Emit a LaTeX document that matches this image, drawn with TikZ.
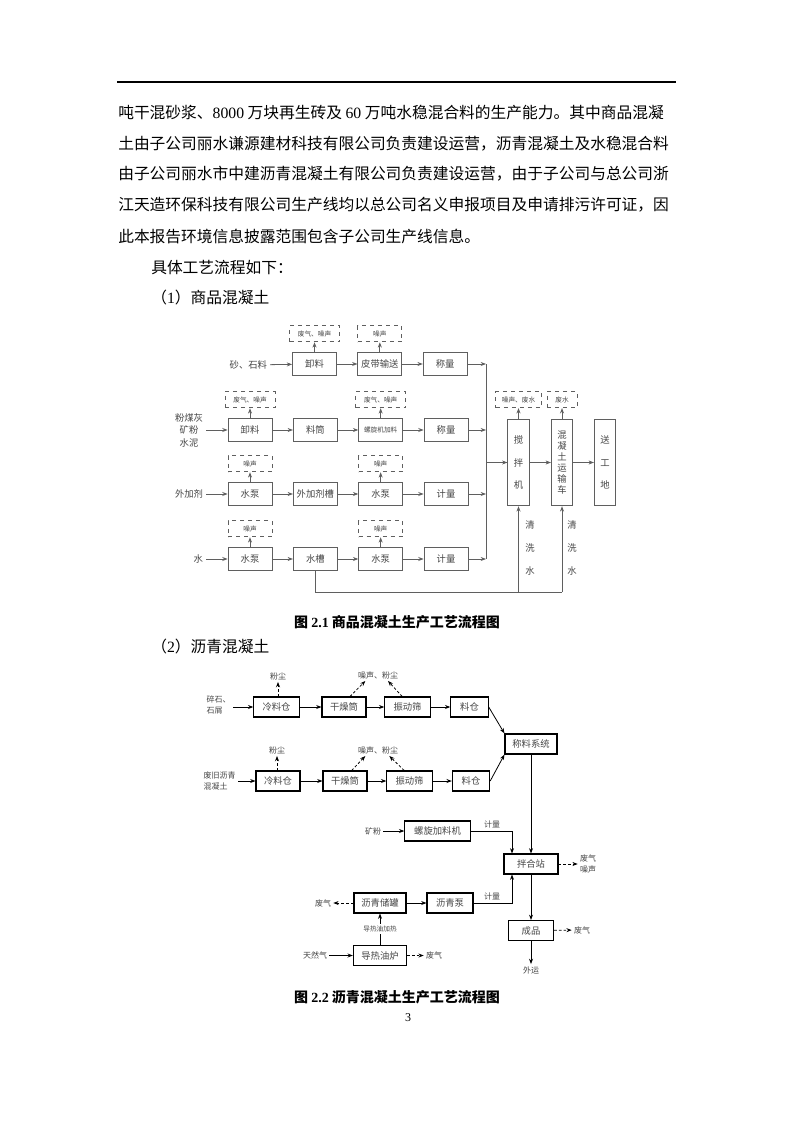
\documentclass[tikz,border=0pt]{standalone}
\usepackage{fontspec}
\setmainfont{Noto Sans CJK SC}
\newfontfamily\latin{Liberation Serif}
\usetikzlibrary{positioning,arrows.meta}
\definecolor{BoxGray}{RGB}{95,95,95}
\definecolor{TextGray}{RGB}{70,70,70}
\XeTeXlinebreaklocale "zh"
\XeTeXlinebreakskip=0pt plus 3pt
\newcommand{\lat}[1]{{\latin #1}}

\begin{document}
\begin{tikzpicture}[x=0.75pt, y=-0.75pt,
    body/.style={anchor=west, inner sep=0pt, font=\fontsize{11.8}{14}\selectfont},
    figcap/.style={inner sep=0pt, font=\fontsize{10.5}{12}\selectfont\bfseries},
    box/.style={rectangle, draw=BoxGray, semithick, minimum width=33pt,
                minimum height=17pt, inner sep=1pt, text=TextGray,
                font=\fontsize{7}{8}\selectfont},
    tall/.style={box, minimum width=16pt, minimum height=65pt, align=center},
    emis/.style={rectangle, draw=BoxGray, dashed, semithick, minimum width=33pt,
                 minimum height=12pt, inner sep=1pt, text=TextGray,
                 font=\fontsize{5}{6}\selectfont},
    lbl/.style={inner sep=2pt, text=TextGray, align=center,
                font=\fontsize{7}{9.4}\selectfont},
    arrow/.style={-{Stealth[length=4pt, width=3pt]}, draw=BoxGray, semithick},
    pipe/.style={draw=BoxGray, semithick},
    box2/.style={rectangle, draw=black, thick, minimum height=15pt,
                 inner sep=1pt, text=TextGray, font=\fontsize{7}{8}\selectfont},
    lbl2/.style={inner sep=1.5pt, text=TextGray, font=\fontsize{6}{8}\selectfont},
    arr2/.style={-{Stealth[length=4pt, width=3pt]}, draw=black, semithick},
    darr/.style={arr2, dash pattern=on 2pt off 1.5pt}
]
    \useasboundingbox (0,0) rectangle (794,1123);
    \fill[white] (0,0) rectangle (794,1123);

    \draw[line width=1.2pt] (117,82) -- (676,82);
    \node[body, text width=419pt, align=justify] (t1) at (118,113)
        {\noindent\parfillskip=0pt 吨干混砂浆、\lat{8000} 万块再生砖及 \lat{60} 万吨水稳混合料的生产能力。其中商品混凝};
    \node[body, text width=419pt, align=justify] (t2) at (118,143.5)
        {\noindent\parfillskip=0pt 土由子公司丽水谦源建材科技有限公司负责建设运营，沥青混凝土及水稳混合料};
    \node[body, text width=419pt, align=justify] (t3) at (118,174)
        {\noindent\parfillskip=0pt 由子公司丽水市中建沥青混凝土有限公司负责建设运营，由于子公司与总公司浙};
    \node[body, text width=419pt, align=justify] (t4) at (118,205)
        {\noindent\parfillskip=0pt 江天造环保科技有限公司生产线均以总公司名义申报项目及申请排污许可证，因};
    \node[body] (t5) at (118,237) {此本报告环境信息披露范围包含子公司生产线信息。};
    \node[body] (t6) at (151,268) {具体工艺流程如下：};
    \node[body] (t7) at (151,297.5) {（\lat{1}）商品混凝土};

    \node[box] (s1) at (314.5,364) {卸料};
    \node[box, right=15.4pt of s1] (s2) {皮带输送};
    \node[box, right=15.4pt of s2] (s3) {称量};
    \node[lbl, anchor=east] (sl) at (270,365) {砂、石料};

    \node[box] (f1) at (250,430) {卸料};
    \node[box, right=15.4pt of f1] (f2) {料筒};
    \node[box, right=15.4pt of f2, font=\fontsize{5}{6}\selectfont] (f3) {螺旋机加料};
    \node[box, right=15.4pt of f3] (f4) {称量};
    \node[lbl, anchor=east] (fl) at (206,430) {粉煤灰\\矿粉\\水泥};

    \node[box] (w1) at (250,494) {水泵};
    \node[box, right=15.4pt of w1] (w2) {外加剂槽};
    \node[box, right=15.4pt of w2] (w3) {水泵};
    \node[box, right=15.4pt of w3] (w4) {计量};
    \node[lbl, anchor=east] (wl) at (206,494) {外加剂};

    \node[box] (h1) at (250,559) {水泵};
    \node[box, right=15.4pt of h1] (h2) {水槽};
    \node[box, right=15.4pt of h2] (h3) {水泵};
    \node[box, right=15.4pt of h3] (h4) {计量};
    \node[lbl, anchor=east] (hl) at (206,559) {水};

    \node[emis, above=7.5pt of s1, minimum width=37.5pt] (e1) {废气、噪声};
    \node[emis, above=7.5pt of s2] (e2) {噪声};
    \node[emis, above=7.5pt of f1, minimum width=37.5pt] (e3) {废气、噪声};
    \node[emis, above=7.5pt of f3, minimum width=37.5pt] (e4) {废气、噪声};
    \node[emis, above=7.5pt of w1] (e5) {噪声};
    \node[emis, above=7.5pt of w3] (e6) {噪声};
    \node[emis, above=7.5pt of h1] (e7) {噪声};
    \node[emis, above=7.5pt of h3] (e8) {噪声};

    \node[tall, font=\fontsize{7}{17}\selectfont] (jb) at (518.5,462.5) {搅\\拌\\机};
    \node[tall, font=\fontsize{7}{8.3}\selectfont] (ys) at (562,462.5) {混\\凝\\土\\运\\输\\车};
    \node[tall, font=\fontsize{7}{17}\selectfont] (sg) at (605,462.5) {送\\工\\地};
    \node[emis, above=8pt of jb, minimum width=34pt] (e9) {噪声、废水};
    \node[emis, above=8pt of ys, minimum width=22.5pt] (e10) {废水};

    \coordinate (bt) at (486,364);
    \coordinate (bb) at (486,559);
    \coordinate (wb) at (0,592);

    \draw[arrow] (sl) -- (s1);
    \draw[arrow] (s1) -- (s2);
    \draw[arrow] (s2) -- (s3);
    \draw[arrow] (fl) -- (f1);
    \draw[arrow] (f1) -- (f2);
    \draw[arrow] (f2) -- (f3);
    \draw[arrow] (f3) -- (f4);
    \draw[arrow] (wl) -- (w1);
    \draw[arrow] (w1) -- (w2);
    \draw[arrow] (w2) -- (w3);
    \draw[arrow] (w3) -- (w4);
    \draw[arrow] (hl) -- (h1);
    \draw[arrow] (h1) -- (h2);
    \draw[arrow] (h2) -- (h3);
    \draw[arrow] (h3) -- (h4);
    \foreach \b/\e in {s1/e1, s2/e2, f1/e3, f3/e4, w1/e5, w3/e6, h1/e7, h3/e8, jb/e9, ys/e10}
        \draw[arrow] (\b) -- (\e);
    \draw[pipe] (bt) -- (bb);
    \foreach \b in {s3, f4, w4, h4}
        \draw[arrow] (\b.east) -- (\b.east -| bt);
    \draw[arrow] (bt |- jb) -- (jb);
    \draw[arrow] (jb) -- (ys);
    \draw[arrow] (ys) -- (sg);
    \draw[pipe] (h2.south) -- (h2.south |- wb) -- (ys.south |- wb);
    \draw[arrow] (jb.south |- wb) -- (jb.south);
    \draw[arrow] (ys.south |- wb) -- (ys.south);
    \node[lbl, font=\fontsize{7}{17.5}\selectfont] (q1) at (530,548) {清\\洗\\水};
    \node[lbl, font=\fontsize{7}{17.5}\selectfont] (q2) at (572,548) {清\\洗\\水};

    \node[figcap] (c1) at (397,622) {图 \lat{2.1} 商品混凝土生产工艺流程图};
    \node[body] (t8) at (151,647) {（\lat{2}）沥青混凝土};

    \node[box2, minimum width=34pt] (a1) at (276.5,707) {冷料仓};
    \node[box2, minimum width=33pt] (a2) at (344,707) {干燥筒};
    \node[box2, minimum width=34pt] (a3) at (407.5,707) {振动筛};
    \node[box2, minimum width=28pt] (a4) at (469.5,707) {料仓};
    \node[lbl2, anchor=east, align=left] (al) at (233,705) {碎石、\\石屑};
    \node[lbl2] (d1) at (278,676) {粉尘};
    \node[lbl2] (n1) at (378,675) {噪声、粉尘};

    \node[box2, minimum width=33pt] (b1) at (278,781) {冷料仓};
    \node[box2, minimum width=33pt] (b2) at (345,781) {干燥筒};
    \node[box2, minimum width=34pt] (b3) at (409.5,781) {振动筛};
    \node[box2, minimum width=28pt] (b4) at (471,781) {料仓};
    \node[lbl2, anchor=east, align=left] (bl) at (238,781) {废旧沥青\\混凝土};
    \node[lbl2] (d2) at (277,750) {粉尘};
    \node[lbl2] (n2) at (378,750) {噪声、粉尘};

    \node[box2, minimum width=39pt] (cl) at (531,744) {称料系统};
    \node[box2, minimum width=49pt] (lx) at (437.5,831) {螺旋加料机};
    \node[lbl2] (kf) at (373,831) {矿粉};
    \node[box2, minimum width=40.5pt] (bh) at (531,864) {拌合站};
    \node[lbl2, align=left] (fq1) at (588,864) {废气\\噪声};
    \node[box2, minimum width=39pt] (lq) at (380,903) {沥青储罐};
    \node[box2, minimum width=34.5pt] (lb) at (450,903) {沥青泵};
    \node[lbl2] (fq2) at (323,903) {废气};
    \node[box2, minimum width=34pt] (cp) at (531,930.5) {成品};
    \node[lbl2] (fq4) at (582,930) {废气};
    \node[lbl2] (wy) at (531,970) {外运};
    \node[box2, minimum width=40pt] (dr) at (380,955.5) {导热油炉};
    \node[lbl2] (tr) at (315,955.5) {天然气};
    \node[lbl2] (fq3) at (434,955.5) {废气};

    \foreach \u/\v in {a1/a2, a2/a3, a3/a4, b1/b2, b2/b3, b3/b4, kf/lx, lq/lb, tr/dr, bh/cp, cp/wy}
        \draw[arr2] (\u) -- (\v);
    \draw[arr2] (al.east |- a1) -- (a1);
    \draw[arr2] (bl) -- (b1);
    \draw[arr2] (a4.east) -- (cl.north west);
    \draw[arr2] (b4.east) -- (cl.south west);
    \draw[arr2] (cl) -- (bh);
    \draw[darr] (a1.north -| d1) -- (d1);
    \draw[darr] (b1.north -| d2) -- (d2);
    \draw[darr] ([xshift=4.5pt]a2.north) -- ([xshift=-9.5pt]n1.south);
    \draw[darr] ([xshift=-4pt]a3.north) -- ([xshift=7.5pt]n1.south);
    \draw[darr] ([xshift=5pt]b2.north) -- ([xshift=-9.5pt]n2.south);
    \draw[darr] ([xshift=-4pt]b3.north) -- ([xshift=8.5pt]n2.south);
    \draw[arr2] (lx.east) -| node[lbl2, pos=0.26, above] (jl1) {计量} ([xshift=-14.25pt]bh.north);
    \draw[arr2] (lb.east) -| node[lbl2, pos=0.24, above] (jl2) {计量} ([xshift=-14.25pt]bh.south);
    \draw[darr] (bh) -- (fq1);
    \draw[darr] (lq) -- (fq2);
    \draw[darr] (cp) -- (fq4);
    \draw[darr] (dr) -- (fq3);
    \draw[arr2] (dr) -- node[lbl2, fill=white, font=\fontsize{5}{6}\selectfont] (rr) {导热油加热} (lq);

    \node[figcap] (c2) at (397,997) {图 \lat{2.2} 沥青混凝土生产工艺流程图};
    \node[inner sep=0pt, font=\fontsize{9}{10}\selectfont\latin] (pg) at (408,1018) {3};
\end{tikzpicture}
\end{document}
